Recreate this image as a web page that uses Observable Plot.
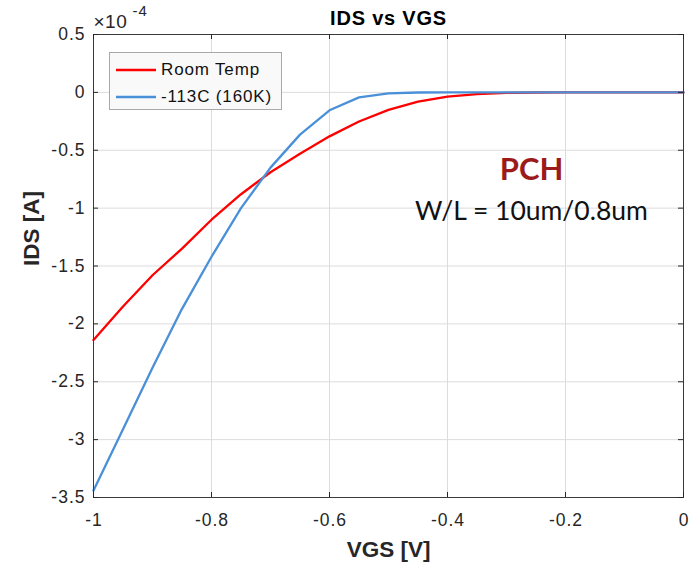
<!DOCTYPE html>
<html>
<head>
<meta charset="utf-8">
<script src="https://cdn.jsdelivr.net/npm/d3@7"></script>
<script src="https://cdn.jsdelivr.net/npm/@observablehq/plot@0.6"></script>
<style>
  body { margin: 0; background: white; }
  #wrap { position: relative; width: 692px; height: 566px; }
  #legend { position: absolute; left: 109px; top: 52px; width: 171px; height: 56px;
    border: 1px solid #a8a8a8; background: #f9f9f9; font-family: "Liberation Sans", Arial, sans-serif;
    font-size: 17px; letter-spacing: 0.85px; color: #111; }
  .row { position: absolute; left: 0; height: 22px; display: flex; align-items: center; white-space: nowrap; }
  .row svg { margin-left: 6px; margin-right: 5px; }
</style>
</head>
<body>
<div id="wrap"></div>
<script>
// ---- data (IDS in units of 1e-4 A) ----
const vgs = [-1, -0.95, -0.9, -0.85, -0.8, -0.75, -0.7, -0.65, -0.6, -0.55, -0.5,
             -0.45, -0.4, -0.35, -0.3, -0.25, -0.2, -0.15, -0.1, -0.05, 0];
const idsRoom = [-2.14, -1.85, -1.58, -1.35, -1.10, -0.88, -0.69, -0.53, -0.38, -0.252, -0.151,
                 -0.079, -0.036, -0.015, -0.005, -0.001, 0, 0, 0, 0, 0];
const idsCold = [-3.44, -2.91, -2.38, -1.87, -1.42, -1.00, -0.65, -0.365, -0.155, -0.043, -0.008,
                 -0.001, 0, 0, 0, 0, 0, 0, 0, 0, 0];
const seriesNames = ["Room Temp", "-113C (160K)"];
const seriesColors = ["#ff0000", "#4a90d9"];
const xTicks = [-1, -0.8, -0.6, -0.4, -0.2, 0];
const xTickLabels = ["-1", "-0.8", "-0.6", "-0.4", "-0.2", "0"];
const yTicks = [0.5, 0, -0.5, -1, -1.5, -2, -2.5, -3, -3.5];
const yTickLabels = ["0.5", "0", "-0.5", "-1", "-1.5", "-2", "-2.5", "-3", "-3.5"];
const titleText = "IDS vs VGS";
const xLabel = "VGS [V]";
const yLabel = "IDS [A]";
const multBase = "\u00d710";
const multExp = "-4";
const annotTitle = "PCH";
const annotSub = "W/L = 10um/0.8um";

const rows = [];
vgs.forEach((v, i) => rows.push({v, ids: idsRoom[i], s: seriesNames[0]}));
vgs.forEach((v, i) => rows.push({v, ids: idsCold[i], s: seriesNames[1]}));

const W = 692, H = 566, mL = 93, mR = 9, mT = 34, mB = 69;
const fw = W - mL - mR, fh = H - mT - mB;
const tickLen = 5;

const chart = Plot.plot({
  width: W, height: H,
  marginLeft: mL, marginRight: mR, marginTop: mT, marginBottom: mB,
  style: {fontFamily: "'Liberation Sans', Arial, sans-serif", fontSize: "17.5px", color: "#262626", background: "white", letterSpacing: "1px"},
  x: {domain: [-1, 0]},
  y: {domain: [-3.5, 0.5]},
  color: {domain: seriesNames, range: seriesColors},
  marks: [
    Plot.gridX(xTicks, {stroke: "#dcdcdc", strokeOpacity: 1}),
    Plot.gridY(yTicks, {stroke: "#dcdcdc", strokeOpacity: 1}),
    Plot.line(rows, {x: "v", y: "ids", z: "s", stroke: "s", strokeWidth: 2.3}),
    Plot.frame({stroke: "#3a3a3a", strokeWidth: 1}),
    // inward ticks
    Plot.tickX(xTicks, {x: d => d, insetTop: fh - tickLen, stroke: "#262626"}),
    Plot.tickX(xTicks, {x: d => d, insetBottom: fh - tickLen, stroke: "#262626"}),
    Plot.tickY(yTicks, {y: d => d, insetRight: fw - tickLen, stroke: "#262626"}),
    Plot.tickY(yTicks, {y: d => d, insetLeft: fw - tickLen, stroke: "#262626"}),
    Plot.axisX({ticks: xTicks, tickFormat: (d) => xTickLabels[xTicks.indexOf(d)], tickSize: 0, tickPadding: 16, label: null, fill: "#262626", fontSize: 17.5, dx: 0.5}),
    Plot.axisY({ticks: yTicks, tickFormat: (d) => yTickLabels[yTicks.indexOf(d)], tickSize: 0, tickPadding: 8, label: null, fill: "#262626", fontSize: 17.5}),
    Plot.text([titleText], {frameAnchor: "top", dy: -16, fontWeight: "bold", fontSize: 20, fill: "#000", lineAnchor: "middle"}),
    Plot.text([xLabel], {frameAnchor: "bottom", dy: 52, fontWeight: "bold", fontSize: 22.5, fill: "#262626", lineAnchor: "middle"}),
    Plot.text([yLabel], {frameAnchor: "left", dx: -62, rotate: -90, fontWeight: "bold", fontSize: 22.5, fill: "#262626", lineAnchor: "middle"}),
    Plot.text([multBase], {frameAnchor: "top-left", textAnchor: "start", dx: 0, dy: -13, fontSize: 19, fill: "#262626", lineAnchor: "middle"}),
    Plot.text([multExp], {frameAnchor: "top-left", textAnchor: "start", dx: 39, dy: -23, fontSize: 15, fill: "#262626", lineAnchor: "middle"}),
    Plot.text([annotTitle], {frameAnchor: "top-left", textAnchor: "middle", dx: 438, dy: 136, fontFamily: "Lato", fontWeight: "bold", fontSize: 31, fill: "#9b1b1b", lineAnchor: "middle"}),
    Plot.text([annotSub], {frameAnchor: "top-left", textAnchor: "middle", dx: 438, dy: 177, fontFamily: "Lato", fontSize: 26.5, fill: "#111", lineAnchor: "middle"})
  ]
});

// per-text letter spacing tweaks
d3.select(chart).selectAll("text").each(function() {
  const t = this.textContent;
  if (t === annotTitle || t === annotSub || t === xLabel || t === yLabel) this.style.letterSpacing = "0px";
  if (t === titleText) this.style.letterSpacing = "0.8px";
  if (t === multBase) this.style.letterSpacing = "0.5px";
});

const wrap = document.getElementById("wrap");
wrap.appendChild(chart);

const legend = document.createElement("div");
legend.id = "legend";
seriesNames.forEach((name, i) => {
  const row = document.createElement("div");
  row.className = "row";
  row.style.top = (6 + i * 27) + "px";
  row.innerHTML = `<svg width="40" height="6"><line x1="0" x2="40" y1="3" y2="3" stroke="${seriesColors[i]}" stroke-width="2.5"/></svg><span>${name}</span>`;
  legend.appendChild(row);
});
wrap.appendChild(legend);
</script>
</body>
</html>
